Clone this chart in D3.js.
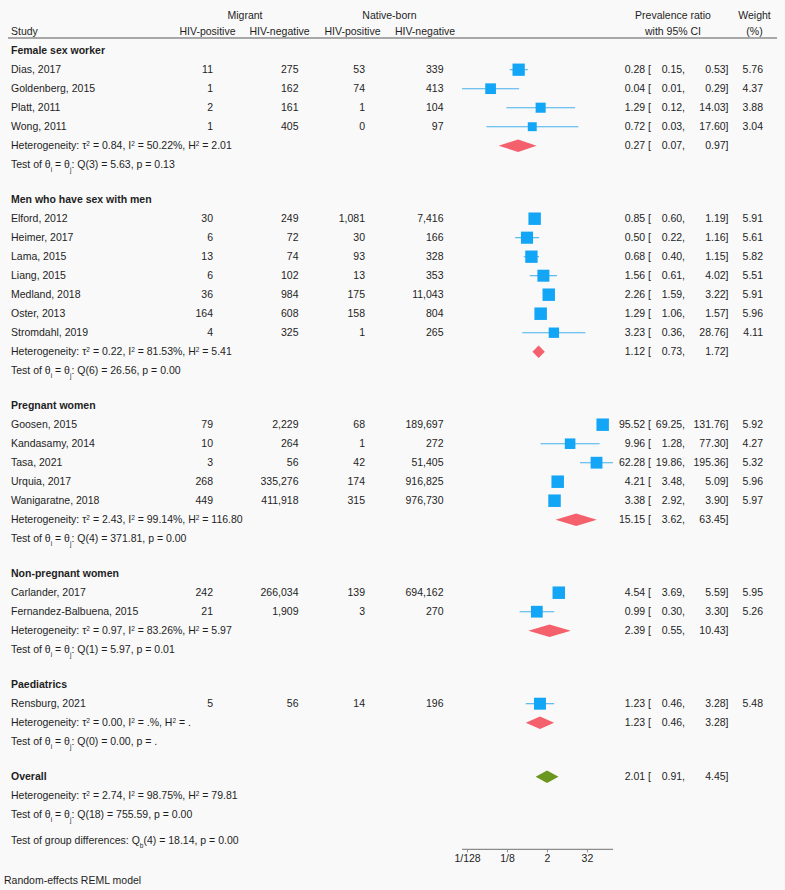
<!DOCTYPE html>
<html>
  <head>
    <meta charset="utf-8">
    <script src="https://cdnjs.cloudflare.com/ajax/libs/d3/7.8.5/d3.min.js"></script>
    <style>
      body { margin: 0; background: #f9f9f9; }
      text { font-family: "Liberation Sans", Arial, Helvetica, sans-serif; font-size: 10.5px; fill: #1e1e1e; }
    </style>
  </head>
  <body>
    <div id="vis"></div>
    <script type="text/javascript">

        // studies
        const studies = ["Dias, 2017", "Goldenberg, 2015", "Platt, 2011", "Wong, 2011",
            "Elford, 2012", "Heimer, 2017", "Lama, 2015", "Liang, 2015", "Medland, 2018", "Oster, 2013", "Stromdahl, 2019",
            "Goosen, 2015", "Kandasamy, 2014", "Tasa, 2021", "Urquia, 2017", "Wanigaratne, 2018",
            "Carlander, 2017", "Fernandez-Balbuena, 2015",
            "Rensburg, 2021"];
        const studyGroup = [0, 0, 0, 0, 1, 1, 1, 1, 1, 1, 1, 2, 2, 2, 2, 2, 3, 3, 4];
        const migPos = [11, 1, 2, 1, 30, 6, 13, 6, 36, 164, 4, 79, 10, 3, 268, 449, 242, 21, 5];
        const migNeg = [275, 162, 161, 405, 249, 72, 74, 102, 984, 608, 325, 2229, 264, 56, 335276, 411918, 266034, 1909, 56];
        const natPos = [53, 74, 1, 0, 1081, 30, 93, 13, 175, 158, 1, 68, 1, 42, 174, 315, 139, 3, 14];
        const natNeg = [339, 413, 104, 97, 7416, 166, 328, 353, 11043, 804, 265, 189697, 272, 51405, 916825, 976730, 694162, 270, 196];
        const est = [0.28, 0.04, 1.29, 0.72, 0.85, 0.50, 0.68, 1.56, 2.26, 1.29, 3.23, 95.52, 9.96, 62.28, 4.21, 3.38, 4.54, 0.99, 1.23];
        const lo = [0.15, 0.0055, 0.12, 0.03, 0.60, 0.22, 0.40, 0.61, 1.59, 1.06, 0.36, 69.25, 1.28, 19.86, 3.48, 2.92, 3.69, 0.30, 0.46];
        const hi = [0.53, 0.29, 14.03, 17.60, 1.19, 1.16, 1.15, 4.02, 3.22, 1.57, 28.76, 131.76, 77.30, 195.36, 5.09, 3.90, 5.59, 3.30, 3.28];
        const weight = [5.76, 4.37, 3.88, 3.04, 5.91, 5.61, 5.82, 5.51, 5.91, 5.96, 4.11, 5.92, 4.27, 5.32, 5.96, 5.97, 5.95, 5.26, 5.48];

        // subgroups
        const groups = ["Female sex worker", "Men who have sex with men", "Pregnant women", "Non-pregnant women", "Paediatrics"];
        const grpEst = [0.27, 1.12, 15.15, 2.39, 1.23];
        const grpLo = [0.07, 0.73, 3.62, 0.55, 0.46];
        const grpHi = [0.97, 1.72, 63.45, 10.43, 3.28];
        const grpTau2 = ["0.84", "0.22", "2.43", "0.97", "0.00"];
        const grpI2 = ["50.22", "81.53", "99.14", "83.26", "."];
        const grpH2 = ["2.01", "5.41", "116.80", "5.97", "."];
        const grpDf = [3, 6, 4, 1, 0];
        const grpQ = ["5.63", "26.56", "371.81", "5.97", "0.00"];
        const grpP = ["0.13", "0.00", "0.00", "0.01", "."];

        // overall
        const overall = {est: 2.01, lo: 0.91, hi: 4.45, tau2: "2.74", i2: "98.75", h2: "79.81", df: 18, q: "755.59", p: "0.00"};
        const groupDiff = {df: 4, q: "18.14", p: "0.00"};

        const tickValues = [1/128, 1/8, 2, 32];
        const tickLabels = ["1/128", "1/8", "2", "32"];

        const W = 785, H = 890;
        const svg = d3.select("#vis").append("svg")
            .attr("width", W).attr("height", H);
        svg.append("rect").attr("width", W).attr("height", H).attr("fill", "#f9f9f9");

        const x = d3.scaleLog().base(2)
            .domain([d3.min(lo), d3.max(hi)])
            .range([462, 613]);
        const side = d3.scaleSqrt().domain([0, d3.max(weight)]).range([0, 12.5]);
        const fmtN = d3.format(",");
        const f2 = d3.format(".2f");

        const sqCol = "#14a6f6", ciCol = "#45b2ec", dmCol = "#f4606c", ovCol = "#6b961f";

        const colX = {lab: 11, mp: 213, mn: 298.5, np: 365, nn: 443.5, est: 651, lo: 685, hi: 728.5, w: 763};

        function txt(xx, yy, s, anchor, bold) {
            return svg.append("text").attr("x", xx).attr("y", yy).attr("dy", "0.35em")
                .attr("text-anchor", anchor || "start")
                .style("font-weight", bold ? "bold" : null)
                .text(s);
        }

        // text with small raised / lowered parts: [[str, "sup"|"sub"|null], ...]
        function richText(xx, yy, parts) {
            const t = txt(xx, yy, "");
            parts.forEach(([s, kind]) => {
                const sp = t.append("tspan").text(s);
                if (kind) sp.attr("baseline-shift", kind === "sup" ? "super" : "sub").style("font-size", "6.5px");
            });
            return t;
        }

        // header
        txt(245, 15.5, "Migrant", "middle");
        txt(389.5, 15.5, "Native-born", "middle");
        txt(673, 15.5, "Prevalence ratio", "middle");
        txt(754.5, 15.5, "Weight", "middle");
        txt(colX.lab, 31, "Study");
        txt(207.5, 31, "HIV-positive", "middle");
        txt(279.5, 31, "HIV-negative", "middle");
        txt(352.5, 31, "HIV-positive", "middle");
        txt(425, 31, "HIV-negative", "middle");
        txt(673, 31, "with 95% CI", "middle");
        txt(754.5, 31, "(%)", "middle");
        svg.append("line").attr("x1", 8).attr("x2", 777).attr("y1", 38).attr("y2", 38)
            .attr("stroke", "#8c8c8c").attr("stroke-width", 1.6);

        function ciText(yy, e, l, h) {
            txt(colX.est, yy, f2(e) + " [", "end");
            txt(colX.lo, yy, f2(l) + ",", "end");
            txt(colX.hi, yy, f2(h) + "]", "end");
        }

        function diamond(yy, e, l, h, col) {
            const hh = 6.3;
            svg.append("path")
                .attr("d", `M${x(l)},${yy}L${x(e)},${yy - hh}L${x(h)},${yy}L${x(e)},${yy + hh}Z`)
                .attr("fill", col);
        }

        function hetText(yy, tau2, i2, h2) {
            richText(colX.lab, yy, [["Heterogeneity: τ"], ["2", "sup"], [` = ${tau2}, I`], ["2", "sup"],
                [` = ${i2}%, H`], ["2", "sup"], [` = ${h2}`]]);
        }

        function testText(yy, df, q, p) {
            richText(colX.lab, yy, [["Test of θ"], ["i", "sub"], [" = θ"], ["j", "sub"], [`: Q(${df}) = ${q}, p = ${p}`]]);
        }

        const rowH = 19, gapH = 35;
        let y = 50.7;
        groups.forEach((g, gi) => {
            txt(colX.lab, y, g, "start", true);
            studies.forEach((s, i) => {
                if (studyGroup[i] !== gi) return;
                y += rowH;
                txt(colX.lab, y, s);
                txt(colX.mp, y, fmtN(migPos[i]), "end");
                txt(colX.mn, y, fmtN(migNeg[i]), "end");
                txt(colX.np, y, fmtN(natPos[i]), "end");
                txt(colX.nn, y, fmtN(natNeg[i]), "end");
                svg.append("line")
                    .attr("x1", x(lo[i])).attr("x2", x(hi[i]))
                    .attr("y1", y).attr("y2", y)
                    .attr("stroke", ciCol).attr("stroke-width", 1.1);
                const sd = side(weight[i]);
                svg.append("rect")
                    .attr("x", x(est[i]) - sd / 2).attr("y", y - sd / 2)
                    .attr("width", sd).attr("height", sd)
                    .attr("fill", sqCol);
                ciText(y, est[i], lo[i], hi[i]);
                txt(colX.w, y, f2(weight[i]), "end");
            });
            y += rowH;
            hetText(y, grpTau2[gi], grpI2[gi], grpH2[gi]);
            diamond(y, grpEst[gi], grpLo[gi], grpHi[gi], dmCol);
            ciText(y, grpEst[gi], grpLo[gi], grpHi[gi]);
            y += rowH;
            testText(y, grpDf[gi], grpQ[gi], grpP[gi]);
            y += gapH;
        });

        // overall
        txt(colX.lab, y, "Overall", "start", true);
        diamond(y, overall.est, overall.lo, overall.hi, ovCol);
        ciText(y, overall.est, overall.lo, overall.hi);
        y += rowH;
        hetText(y, overall.tau2, overall.i2, overall.h2);
        y += rowH;
        testText(y, overall.df, overall.q, overall.p);
        y += 26;
        richText(colX.lab, y, [["Test of group differences: Q"], ["b", "sub"],
            [`(${groupDiff.df}) = ${groupDiff.q}, p = ${groupDiff.p}`]]);

        // axis
        const axis = d3.axisBottom(x)
            .tickValues(tickValues)
            .tickFormat((d, i) => tickLabels[i])
            .tickSize(3)
            .tickPadding(2);
        const ax = svg.append("g").attr("transform", "translate(0,849.3)").call(axis);
        ax.select(".domain").attr("stroke", "#8c8c8c").attr("stroke-width", 1.2)
            .attr("d", `M${x.range()[0]},0H${x.range()[1]}`);
        ax.selectAll(".tick line").attr("stroke", "#8c8c8c");
        ax.selectAll(".tick text").style("font-size", "10.5px").attr("fill", "#1e1e1e")
            .style("font-family", "'Liberation Sans', Arial, sans-serif");

        txt(4, 880.7, "Random-effects REML model");

    </script>
  </body>
</html>
